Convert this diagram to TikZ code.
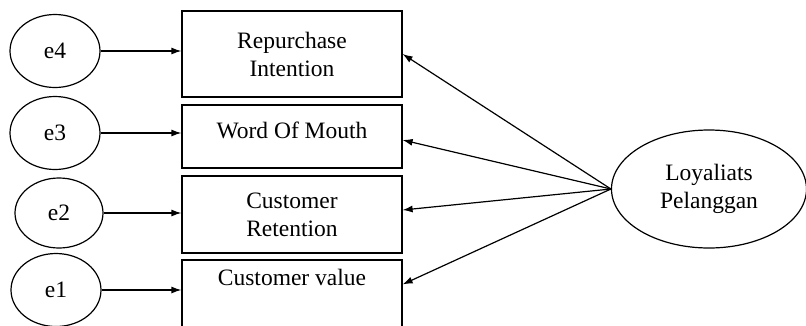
\documentclass[tikz,border=0pt]{standalone}
\usepackage{fontspec}
\setmainfont{Liberation Serif}
\usetikzlibrary{arrows.meta,shapes.geometric}

\begin{document}
\begin{tikzpicture}[x=1pt, y=-1pt, line width=1.2pt,
		font=\fontsize{23.5}{28}\selectfont,
		>={Latex[length=10pt, width=7pt]},
		indicator/.style={draw, rectangle, minimum width=220pt, align=center, inner sep=0pt},
		err/.style={draw, ellipse, minimum width=90pt, minimum height=73pt, inner sep=0pt}]
		\useasboundingbox (0, 0) rectangle (806, 325);

		\node[indicator, minimum height=86pt] (rp) at (292, 54) {Repurchase\\Intention};
		\node[indicator, minimum height=63pt] (wom) at (292, 136.5) {Word Of Mouth\\[-16pt]};
		\node[indicator, minimum height=77pt] (cr) at (292, 214.5) {Customer\\Retention};
		\node[indicator, minimum height=72pt] (cv) at (292, 296) {Customer value\\\strut};

		\node[err] (e4) at (55, 51) {e4};
		\node[err] (e3) at (55, 133) {e3};
		\node[err, minimum width=88pt, minimum height=70pt] (e2) at (59, 213) {e2};
		\node[err] (e1) at (56, 290) {e1};

		\node[draw, ellipse, minimum width=195pt, minimum height=118pt, inner sep=0pt, align=center] (loy) at (709, 189) {Loyaliats\\Pelanggan};

		\draw[->] (e4.east) -- (e4.east -| rp.west);
		\draw[->] (e3.east) -- (e3.east -| wom.west);
		\draw[->] (e2.east) -- (e2.east -| cr.west);
		\draw[->] (e1.east) -- (e1.east -| cv.west);

		\draw[->] (loy.west) -- (rp.east);
		\draw[->] (loy.west) -- ([yshift=-3.5pt]wom.east);
		\draw[->] (loy.west) -- ([yshift=4.5pt]cr.east);
		\draw[->] (loy.west) -- ([yshift=-25pt]cv.north east);
	\end{tikzpicture}
\end{document}
